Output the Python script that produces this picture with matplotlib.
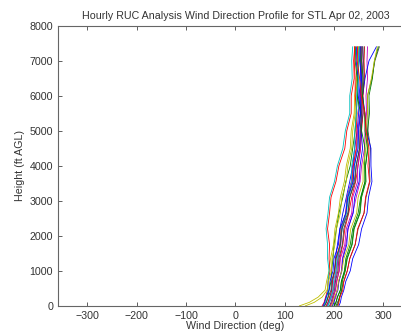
import matplotlib
matplotlib.use("Agg")
import matplotlib.pyplot as plt

# heights of the RUC analysis levels (ft AGL)
heights = [0, 100, 250, 450, 700, 1000, 1350, 1750, 2200, 2650,
           3100, 3550, 4000, 4500, 5000, 5500, 6000, 6500, 7000, 7400]

# wind direction (deg) for each hourly analysis, 00z .. 23z
directions = [
    [185, 188, 192, 195, 197, 201, 203, 207, 212, 218, 225, 232, 238, 242, 247, 250, 251, 254, 254, 255],
    [180, 184, 188, 190, 194, 195, 198, 200, 205, 210, 218, 224, 233, 238, 243, 245, 248, 248, 250, 251],
    [192, 196, 199, 203, 206, 210, 212, 218, 222, 230, 236, 244, 249, 254, 256, 259, 259, 262, 261, 262],
    [188, 191, 195, 198, 203, 204, 208, 212, 217, 225, 230, 238, 242, 247, 249, 253, 253, 256, 256, 258],
    [196, 199, 204, 206, 210, 215, 217, 224, 229, 238, 245, 253, 256, 262, 263, 266, 265, 268, 267, 268],
    [130, 150, 168, 182, 185, 190, 193, 199, 202, 209, 213, 221, 225, 233, 235, 241, 242, 246, 247, 248],
    [204, 207, 212, 215, 220, 227, 232, 243, 249, 261, 265, 273, 272, 274, 269, 269, 268, 277, 283, 292],
    [210, 213, 215, 220, 224, 233, 238, 250, 256, 267, 270, 277, 275, 275, 266, 263, 258, 263, 271, 286],
    [200, 204, 207, 213, 215, 221, 224, 233, 238, 249, 254, 263, 264, 269, 268, 272, 271, 278, 282, 290],
    [176, 180, 183, 187, 188, 192, 190, 191, 187, 191, 194, 204, 210, 222, 226, 235, 235, 241, 240, 242],
    [179, 183, 185, 188, 188, 190, 187, 187, 184, 188, 191, 201, 207, 218, 223, 232, 232, 237, 236, 238],
    [186, 190, 194, 199, 201, 206, 208, 214, 216, 224, 226, 235, 239, 246, 248, 253, 253, 256, 255, 256],
    [142, 160, 176, 186, 189, 195, 196, 202, 205, 213, 216, 225, 228, 236, 238, 243, 244, 248, 249, 250],
    [191, 194, 197, 201, 203, 208, 210, 217, 220, 229, 232, 241, 245, 252, 254, 259, 258, 261, 260, 261],
    [197, 200, 202, 208, 210, 216, 218, 226, 228, 239, 242, 251, 253, 258, 255, 256, 249, 249, 245, 246],
    [201, 204, 207, 213, 215, 222, 226, 236, 240, 252, 255, 263, 262, 263, 256, 254, 247, 247, 243, 244],
    [184, 188, 191, 196, 197, 202, 204, 212, 214, 224, 227, 237, 239, 245, 245, 247, 243, 243, 241, 242],
    [187, 190, 193, 198, 199, 204, 206, 213, 215, 225, 227, 236, 236, 242, 242, 246, 246, 250, 249, 251],
    [193, 196, 198, 203, 205, 211, 213, 222, 225, 236, 238, 248, 248, 254, 253, 257, 256, 259, 257, 258],
    [195, 198, 201, 207, 209, 216, 220, 230, 234, 246, 249, 259, 259, 265, 265, 268, 268, 276, 282, 288],
    [181, 185, 188, 194, 195, 201, 204, 213, 216, 228, 232, 243, 245, 252, 253, 256, 255, 257, 254, 254],
    [178, 181, 184, 190, 192, 198, 200, 209, 212, 224, 228, 239, 241, 249, 250, 254, 253, 256, 252, 253],
    [206, 209, 211, 216, 217, 223, 227, 237, 241, 253, 256, 265, 264, 268, 263, 262, 258, 259, 256, 257],
    [208, 210, 212, 218, 220, 227, 232, 243, 248, 261, 264, 272, 269, 271, 265, 263, 255, 252, 247, 248],
]

# old matlab default line colour order
matlab_colors = [(0, 0, 1), (0, 0.5, 0), (1, 0, 0), (0, 0.75, 0.75),
                 (0.75, 0, 0.75), (0.75, 0.75, 0), (0.25, 0.25, 0.25)]

x_ticks = [-300, -200, -100, 0, 100, 200, 300]
y_ticks = [0, 1000, 2000, 3000, 4000, 5000, 6000, 7000, 8000]

plt.rcParams['font.family'] = ['Liberation Sans', 'DejaVu Sans']
fs = 7.7

fig = plt.figure(figsize=(4.02, 3.35), dpi=100)
ax = fig.add_axes([0.144, 0.087, 0.883, 0.836])

for i, d in enumerate(directions):
    ax.plot(d, heights, color=matlab_colors[i % len(matlab_colors)], linewidth=0.6)

ax.set_xlim(-360, 360)
ax.set_ylim(0, 8000)
ax.set_xticks(x_ticks)
ax.set_yticks(y_ticks)
ax.tick_params(direction='in', top=True, right=True, length=3, width=0.6,
               colors='#444444', labelcolor='#333333', labelsize=fs)
for s in ax.spines.values():
    s.set_color('#666666')
    s.set_linewidth(0.8)

ax.set_xlabel("Wind Direction (deg)", fontsize=fs, labelpad=0, color='#333333')
ax.set_ylabel("Height (ft AGL)", fontsize=fs, labelpad=3, color='#333333')
ax.set_title("Hourly RUC Analysis Wind Direction Profile for STL Apr 02, 2003",
             fontsize=fs, pad=5, color='#333333')

fig.savefig("out.png", dpi=100)
